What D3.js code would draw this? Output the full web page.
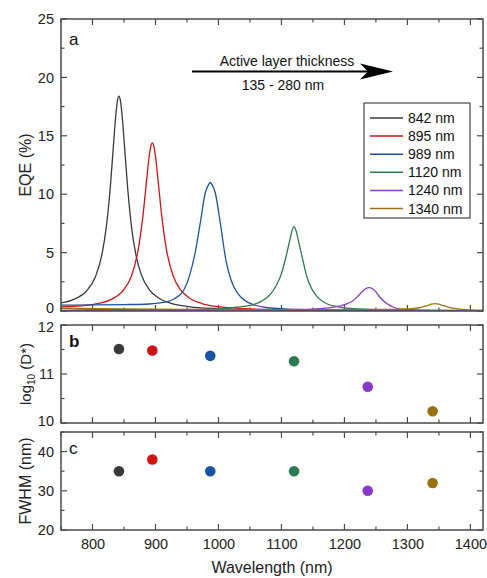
<!DOCTYPE html>
<html><head><meta charset="utf-8">
<script src="https://cdn.jsdelivr.net/npm/d3@7/dist/d3.min.js"></script>
<style>body{margin:0;background:#fff}svg{display:block;font-family:"Liberation Sans",Arial,sans-serif}</style>
</head><body><svg id="c" width="487" height="578"></svg>
<script>
// ---- data ----
const seriesNames = ["842 nm","895 nm","989 nm","1120 nm","1240 nm","1340 nm"];
const seriesColors = ["#3a3a3a","#cc1515","#1a53a6","#2a7a4e","#8a3cc8","#9a7412"];
const peakWl = [842, 895, 987, 1120, 1237, 1340];
const logD = [11.51, 11.48, 11.37, 11.26, 10.74, 10.24];
const fwhm = [35, 38, 35, 35, 30, 32];

const wl842 = [750,770,790,805,815,822,828,833,837,840,842,844,847,851,856,862,869,878,890,905,925,950,1000,1050,1100,1200,1300,1420];
const eqe842 = [0.69,0.99,1.69,2.98,4.85,7.23,10.42,13.98,16.76,18.12,18.4,18.12,16.76,13.98,10.42,7.18,4.78,3.04,1.84,1.12,0.66,0.4,0.19,0.11,0.07,0.04,0.02,0.02];
const wl895 = [750,780,810,830,850,862,872,880,886,890,893,895,897,900,904,910,918,928,940,955,975,1000,1040,1100,1200,1300,1420];
const eqe895 = [0.35,0.44,0.65,1.0,1.85,3.02,5.09,8.1,11.25,13.25,14.2,14.4,14.2,13.25,11.25,8.1,5.09,3.02,1.8,1.07,0.62,0.37,0.2,0.1,0.04,0.03,0.02];
const wl989 = [750,800,850,890,915,930,945,955,963,971,979,984,987,990,995,1003,1012,1021,1030,1042,1055,1075,1100,1150,1250,1420];
const eqe989 = [0.50,0.52,0.55,0.60,0.75,1.05,1.8,3.2,5.0,7.5,10.1,10.8,11.0,10.8,10.1,7.5,4.3,2.5,1.55,0.9,0.55,0.3,0.2,0.1,0.05,0.03];
const wl1120 = [750,850,950,1000,1030,1050,1068,1082,1092,1100,1107,1113,1117,1120,1123,1127,1133,1140,1148,1158,1172,1190,1215,1250,1320,1420];
const eqe1120 = [0.2,0.12,0.12,0.2,0.32,0.48,0.82,1.4,2.2,3.2,4.6,6.0,6.9,7.22,6.9,6.0,4.6,3.0,1.9,1.15,0.62,0.35,0.2,0.12,0.08,0.05];
const wl1240 = [750,900,1050,1120,1160,1185,1200,1213,1222,1229,1234,1239,1244,1249,1256,1265,1278,1295,1320,1360,1420];
const eqe1240 = [0.03,0.04,0.07,0.12,0.2,0.35,0.55,0.85,1.3,1.7,1.93,2.0,1.93,1.7,1.2,0.72,0.32,0.13,0.06,0.03,0.02];
const wl1340 = [750,850,950,1050,1150,1250,1290,1310,1322,1331,1338,1344,1350,1357,1366,1378,1395,1420];
const eqe1340 = [0.25,0.18,0.14,0.12,0.12,0.13,0.16,0.22,0.32,0.45,0.58,0.63,0.58,0.45,0.32,0.2,0.1,0.05];

const xTicks = [800,900,1000,1100,1200,1300,1400];
const yTicksA = [0,5,10,15,20,25];
const yTicksB = [10,11,12];
const yTicksC = [20,30,40];

const curves = [[wl842,eqe842],[wl895,eqe895],[wl989,eqe989],[wl1120,eqe1120],[wl1240,eqe1240],[wl1340,eqe1340]];

// ---- layout ----
const svg = d3.select("#c");
const L = 61, R = 483;
const x = d3.scaleLinear().domain([750,1420]).range([L,R]);
const panels = {
  a: {top:19, bot:311, dom:[0,25], ticks:yTicksA, minor:2.5, nudgeLow:-3, nudgeHigh:0},
  b: {top:325, bot:423, dom:[10,12], ticks:yTicksB, minor:0.5, nudgeLow:-2, nudgeHigh:2},
  c: {top:432, bot:530, dom:[20,45], ticks:yTicksC, minor:5, nudgeLow:0, nudgeHigh:0}
};
const axisColor = "#4a4a4a";
const fontTick = 14.5;

function drawFrame(p, showXLabels){
  const y = d3.scaleLinear().domain(p.dom).range([p.bot,p.top]);
  p.y = y;
  const g = svg.append("g");
  const yMinor = d3.range(p.dom[0], p.dom[1]+1e-9, p.minor);
  yMinor.forEach(v=>{
    const isMajor = p.ticks.some(t=>Math.abs(t-v)<1e-9);
    const len = isMajor?6:3.5;
    g.append("line").attr("x1",L).attr("x2",L+len).attr("y1",y(v)).attr("y2",y(v)).attr("stroke",axisColor).attr("stroke-width",1.2);
    g.append("line").attr("x1",R).attr("x2",R-len).attr("y1",y(v)).attr("y2",y(v)).attr("stroke",axisColor).attr("stroke-width",1.2);
  });
  const xMinor = d3.range(750,1421,50);
  xMinor.forEach(v=>{
    const isMajor = v%100===0;
    const len = isMajor?6:3.5;
    g.append("line").attr("x1",x(v)).attr("x2",x(v)).attr("y1",p.bot).attr("y2",p.bot-len).attr("stroke",axisColor).attr("stroke-width",1.2);
    g.append("line").attr("x1",x(v)).attr("x2",x(v)).attr("y1",p.top).attr("y2",p.top+len).attr("stroke",axisColor).attr("stroke-width",1.2);
  });
  const ya = d3.axisLeft(y).tickValues(p.ticks).tickSize(0).tickPadding(7).tickFormat(d3.format("d"));
  const yg = svg.append("g").attr("transform",`translate(${L},0)`).call(ya);
  yg.select(".domain").remove();
  yg.selectAll("text").attr("font-size",fontTick).attr("fill","#222").attr("font-family","Liberation Sans, Arial, sans-serif")
    .attr("transform",d=> d===p.dom[0] ? `translate(0,${p.nudgeLow})` : (d===p.dom[1] ? `translate(0,${p.nudgeHigh})` : null));
  if(showXLabels){
    const xa = d3.axisBottom(x).tickValues(xTicks).tickSize(0).tickPadding(9).tickFormat(d3.format("d"));
    const xg = svg.append("g").attr("transform",`translate(0,${p.bot})`).call(xa);
    xg.select(".domain").remove();
    xg.selectAll("text").attr("font-size",fontTick).attr("fill","#222").attr("font-family","Liberation Sans, Arial, sans-serif");
  }
  return g;
}

// Panel a curves
const pa = panels.a;
drawFrame(pa,false);
svg.append("clipPath").attr("id","clipA").append("rect").attr("x",L).attr("y",pa.top).attr("width",R-L).attr("height",pa.bot-pa.top);
const line = d3.line().x(d=>x(d[0])).y(d=>pa.y(d[1])).curve(d3.curveMonotoneX);
const cg = svg.append("g").attr("clip-path","url(#clipA)");
curves.forEach((c,i)=>{
  const pts = c[0].map((w,j)=>[w,c[1][j]]);
  cg.append("path").attr("d",line(pts)).attr("fill","none").attr("stroke",seriesColors[i]).attr("stroke-width",1.3);
});

// Panels b, c
const pb = panels.b, pc = panels.c;
drawFrame(pb,false);
drawFrame(pc,true);
const dotColors = ["#3a3a3a","#d01212","#1a52a4","#2b7a50","#8b38c9","#987010"];
peakWl.forEach((w,i)=>{
  svg.append("circle").attr("cx",x(w)).attr("cy",pb.y(logD[i])).attr("r",5.3).attr("fill",dotColors[i]);
  svg.append("circle").attr("cx",x(w)).attr("cy",pc.y(fwhm[i])).attr("r",5.3).attr("fill",dotColors[i]);
});

// frames on top
[pa,pb,pc].forEach(p=>{
  svg.append("rect").attr("x",L).attr("y",p.top).attr("width",R-L).attr("height",p.bot-p.top)
    .attr("fill","none").attr("stroke",axisColor).attr("stroke-width",1.5);
});

// panel letters
svg.append("text").attr("x",69).attr("y",45).attr("font-size",17).attr("fill","#111").text("a");
svg.append("text").attr("x",69).attr("y",347).attr("font-size",17).attr("font-weight","bold").attr("fill","#111").text("b");
svg.append("text").attr("x",69).attr("y",454).attr("font-size",17).attr("fill","#111").text("c");

// axis titles
svg.append("text").attr("transform","translate(31,165) rotate(-90)").attr("text-anchor","middle").attr("font-size",16).attr("fill","#222").text("EQE (%)");
const t2 = svg.append("text").attr("transform","translate(31,374) rotate(-90)").attr("text-anchor","middle").attr("font-size",15).attr("fill","#222");
t2.append("tspan").text("log");
t2.append("tspan").attr("font-size",10).attr("dy",4).text("10");
t2.append("tspan").attr("dy",-4).text(" (D*)");
svg.append("text").attr("transform","translate(31,481) rotate(-90)").attr("text-anchor","middle").attr("font-size",16).attr("fill","#222").text("FWHM (nm)");
svg.append("text").attr("x",272).attr("y",573).attr("text-anchor","middle").attr("font-size",16).attr("fill","#222").text("Wavelength (nm)");

// arrow annotation
svg.append("line").attr("x1",192).attr("x2",375).attr("y1",71.5).attr("y2",71.5).attr("stroke","#000").attr("stroke-width",2);
svg.append("path").attr("d","M393,71.5 L360,63.5 L368,71.5 L360,79.5 Z").attr("fill","#000");
svg.append("text").attr("x",287).attr("y",66).attr("text-anchor","middle").attr("font-size",14).attr("fill","#111").text("Active layer thickness");
svg.append("text").attr("x",283).attr("y",90).attr("text-anchor","middle").attr("font-size",14).attr("fill","#111").text("135 - 280 nm");

// legend
const lg = svg.append("g");
lg.append("rect").attr("x",364).attr("y",103).attr("width",106).attr("height",115).attr("fill","#fff").attr("stroke","#222").attr("stroke-width",1);
seriesNames.forEach((n,i)=>{
  const yy = 118 + i*18.1;
  lg.append("line").attr("x1",370).attr("x2",403).attr("y1",yy).attr("y2",yy).attr("stroke",seriesColors[i]).attr("stroke-width",1.5);
  lg.append("text").attr("x",408).attr("y",yy+5).attr("font-size",14).attr("fill","#111").text(n);
});
</script></body></html>
